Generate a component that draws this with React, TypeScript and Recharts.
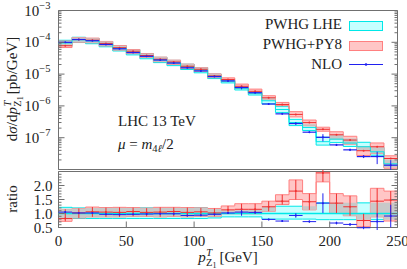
import React from 'react';
import {
  ComposedChart,
  Area,
  Line,
  Scatter,
  ErrorBar,
  XAxis,
  YAxis,
  ReferenceArea,
  ReferenceLine,
} from 'recharts';

// bins of p_T(Z1), lower edges in GeV
const binLow = [0, 10, 20, 30, 40, 50, 60, 70, 80, 90, 100, 110, 120, 130, 140, 150, 160, 170, 180, 190, 200, 210, 220, 230, 240];
const binWidth = 10;
const xTicks = [0, 50, 100, 150, 200, 250];

// PWHG LHE central value, pb/GeV
const lhe = [9.5e-5, 1.2e-4, 1.1e-4, 8.8e-5, 6.5e-5, 4.9e-5, 3.7e-5, 2.8e-5, 2.25e-5, 1.7e-5, 1.34e-5, 8.6e-6, 6.0e-6, 3.6e-6, 2.5e-6, 1.45e-6, 7.7e-7, 3.0e-7, 2.1e-7, 7.5e-8, 9.0e-8, 6.8e-8, 5.2e-8, 3.6e-8, 1.5e-8];
// PWHG LHE band, relative to central
const lheLo = [0.8, 0.82, 0.82, 0.82, 0.82, 0.82, 0.82, 0.82, 0.82, 0.82, 0.82, 0.84, 0.88, 0.88, 0.88, 0.8, 0.8, 0.8, 0.8, 0.78, 0.78, 0.78, 0.78, 0.78, 0.78];
const lheHi = [1.22, 1.2, 1.2, 1.2, 1.2, 1.2, 1.2, 1.2, 1.2, 1.2, 1.2, 1.16, 1.12, 1.12, 1.14, 1.24, 1.26, 1.26, 1.26, 1.38, 1.38, 1.38, 1.38, 1.38, 1.38];
// PWHG+PY8 / PWHG LHE
const py8 = [0.82, 1.02, 1.06, 1.05, 1.04, 1.07, 1.04, 1.05, 1.07, 1.04, 1.06, 1.02, 1.13, 1.15, 1.15, 1.24, 1.44, 1.8, 1.42, 2.45, 1.37, 1.24, 0.75, 1.44, 1.48];
const py8Lo = [0.72, 0.84, 0.88, 0.88, 0.88, 0.9, 0.9, 0.88, 0.9, 0.88, 0.9, 0.9, 0.99, 0.99, 0.99, 1.08, 1.32, 1.5, 1.13, 2.13, 1.02, 0.92, 0.53, 0.88, 0.73];
const py8Hi = [1.15, 1.18, 1.23, 1.21, 1.22, 1.21, 1.19, 1.22, 1.22, 1.21, 1.2, 1.18, 1.27, 1.35, 1.35, 1.44, 1.67, 2.2, 1.71, 2.85, 1.71, 1.63, 0.99, 1.9, 1.8];
// NLO / PWHG LHE and its error
const nlo = [1.05, 1.02, 1.02, 0.97, 0.96, 0.97, 0.98, 0.99, 0.99, 0.93, 0.94, 0.97, 1.02, 1.05, 1.04, 0.79, 0.73, 0.93, 0.71, 1.37, 0.66, 0.61, 0.49, 0.71, 0.91];
const nloErr = [0.02, 0.02, 0.02, 0.02, 0.02, 0.02, 0.02, 0.02, 0.02, 0.02, 0.02, 0.03, 0.03, 0.13, 0.04, 0.03, 0.03, 0.08, 0.04, 0.35, 0.05, 0.05, 0.05, 0.3, 0.4];

const logMajor = [1e-3, 1e-4, 1e-5, 1e-6, 1e-7, 1e-8];

const FONT = '"Liberation Serif", "DejaVu Serif", serif';
const INK = '#222';
const FRAME = '#707070';
const CYAN = '#00e8e8';
const CYAN_FILL = '#c6ffff';
const RED = '#f03030';
const RED_FILL = '#ffc6c6';
const RED_EDGE = '#ff8080';
const GREY_FILL = '#c8c8c8';
const BLUE = '#2020f0';

const lastBin = binLow.length - 1;
const edges = [...binLow, binLow[lastBin] + binWidth];

// where the two bands overlap (drawn grey, like the print)
const overlap = (a: number[], b: number[]) => {
  const hi = Math.min(a[1], b[1]);
  return [Math.min(Math.max(a[0], b[0]), hi), hi];
};

const topRows = edges.map((x, k) => {
  const i = Math.min(k, lastBin);
  const lheBand = [lhe[i] * lheLo[i], lhe[i] * lheHi[i]];
  const py8Band = [lhe[i] * py8Lo[i], lhe[i] * py8Hi[i]];
  return { x, lhe: lhe[i], lheBand, py8Band, both: overlap(lheBand, py8Band) };
});

const ratioRows = edges.map((x, k) => {
  const i = Math.min(k, lastBin);
  const lheBand = [lheLo[i], lheHi[i]];
  const py8Band = [py8Lo[i], py8Hi[i]];
  return { x, lheBand, py8Band, both: overlap(lheBand, py8Band) };
});

const half = binWidth / 2;
const topPy8 = binLow.map((x, i) => ({ x: x + half, y: lhe[i] * py8[i], xe: half }));
const topNlo = binLow.map((x, i) => ({ x: x + half, y: lhe[i] * nlo[i], xe: half, ye: lhe[i] * nloErr[i] }));
const ratioPy8 = binLow.map((x, i) => ({ x: x + half, y: py8[i], xe: half, ye: [py8[i] - py8Lo[i], py8Hi[i] - py8[i]] }));
const ratioNlo = binLow.map((x, i) => ({ x: x + half, y: nlo[i], xe: half, ye: nloErr[i] }));

// tick positions
const logTicks: number[] = [1e-3];
for (let e = -4; e >= -8; e--) {
  for (let m = 9; m >= 1; m--) logTicks.push(Number((m * Math.pow(10, e)).toPrecision(3)));
}
const ratioTicks: number[] = [];
for (let k = 0; k <= 20; k++) ratioTicks.push(Number((0.5 + k * 0.1).toFixed(1)));

const isLogMajor = (v: number) => logMajor.some((m) => Math.abs(v / m - 1) < 1e-6);

function LogTick({ x, y, payload, side }: any) {
  const v = payload.value;
  const major = isLogMajor(v);
  const d = side === 'right' ? -1 : 1;
  const exp = Math.round(Math.log10(v));
  return (
    <g>
      <line x1={x} x2={x + d * (major ? 6 : 3)} y1={y} y2={y} stroke={FRAME} />
      {side === 'left' && major && exp > -8 && (
        <text x={x - 8} y={y + 5} textAnchor="end" fontFamily={FONT} fontSize={15} fill={INK}>
          10
          <tspan dy={-7} fontSize={10.5}>{`\u2212${-exp}`}</tspan>
        </text>
      )}
    </g>
  );
}

function RatioTick({ x, y, payload, side }: any) {
  const v = payload.value;
  const major = Math.abs(v * 2 - Math.round(v * 2)) < 1e-6;
  const d = side === 'right' ? -1 : 1;
  return (
    <g>
      <line x1={x} x2={x + d * (major ? 6 : 3)} y1={y} y2={y} stroke={FRAME} />
      {side === 'left' && major && v < 2.4 && (
        <text x={x - 6} y={y + 5} textAnchor="end" fontFamily={FONT} fontSize={15} fill={INK}>
          {v.toFixed(1)}
        </text>
      )}
    </g>
  );
}

function XTick({ x, y, payload, side }: any) {
  if (side === 'top') return <line x1={x} x2={x} y1={y} y2={y + 6} stroke={FRAME} />;
  return (
    <g>
      <line x1={x} x2={x} y1={y} y2={y - 6} stroke={FRAME} />
      <text x={x} y={y + 18} textAnchor="middle" fontFamily={FONT} fontSize={15} fill={INK}>
        {payload.value}
      </text>
    </g>
  );
}

const dot = (color: string) => (p: any) => <circle cx={p.cx} cy={p.cy} r={1} fill={color} />;

// p_T with T above and Z1 below, as tspans of one text
function PtTspans() {
  return (
    <>
      <tspan fontStyle="italic">p</tspan>
      <tspan fontSize={10.5} fontStyle="italic" dy={-6} dx={0.5}>T</tspan>
      <tspan fontSize={10.5} dx={-6} dy={10}>Z</tspan>
      <tspan fontSize={8} dy={1.5}>1</tspan>
    </>
  );
}

export default function App() {
  const bandSeries = [
    <Area key="lhe" type="stepAfter" dataKey="lheBand" stroke={CYAN} strokeWidth={1} fill={CYAN_FILL} fillOpacity={1} isAnimationActive={false} />,
    <Area key="py8" type="stepAfter" dataKey="py8Band" stroke={RED_EDGE} strokeWidth={1} fill={RED_FILL} fillOpacity={1} isAnimationActive={false} />,
    <Area key="both" type="stepAfter" dataKey="both" stroke="none" fill={GREY_FILL} fillOpacity={1} isAnimationActive={false} />,
  ];
  return (
    <div
      style={{
        position: 'absolute',
        left: 0,
        top: 0,
        width: 407,
        height: 269,
        overflow: 'hidden',
        background: '#fff',
      }}
    >
      <div style={{ position: 'absolute', left: 0, top: 0, width: 407, height: 170, overflow: 'hidden' }}>
        <ComposedChart width={407} height={170} data={topRows} margin={{ top: 10.5, right: 0, bottom: 0.5, left: 0 }}>
          <XAxis dataKey="x" type="number" domain={[0, 250]} ticks={xTicks} hide />
          <YAxis
            type="number"
            scale="log"
            domain={[1e-8, 1e-3]}
            allowDataOverflow
            ticks={logTicks}
            interval={0}
            width={58.5}
            axisLine={false}
            tickLine={false}
            tickSize={0}
            tickMargin={0}
            tick={(p: any) => <LogTick {...p} side="left" />}
          />
          <YAxis
            yAxisId="r"
            orientation="right"
            type="number"
            scale="log"
            domain={[1e-8, 1e-3]}
            allowDataOverflow
            ticks={logTicks}
            interval={0}
            width={9.5}
            axisLine={false}
            tickLine={false}
            tickSize={0}
            tickMargin={0}
            tick={(p: any) => <LogTick {...p} side="right" />}
          />
          {bandSeries}
          <Line type="stepAfter" dataKey="lhe" stroke={CYAN} strokeWidth={1} dot={false} isAnimationActive={false} />
          <Scatter data={topPy8} dataKey="y" shape={dot(RED)} isAnimationActive={false}>
            <ErrorBar dataKey="xe" direction="x" width={0} stroke={RED} strokeWidth={1} />
          </Scatter>
          <Scatter data={topNlo} dataKey="y" shape={dot(BLUE)} isAnimationActive={false}>
            <ErrorBar dataKey="xe" direction="x" width={0} stroke={BLUE} strokeWidth={1.2} />
            <ErrorBar dataKey="ye" direction="y" width={0} stroke={BLUE} strokeWidth={1} />
          </Scatter>
          <ReferenceArea x1={0} x2={250} y1={1e-8} y2={1e-3} fill="none" stroke={FRAME} strokeWidth={1} ifOverflow="visible" />
        </ComposedChart>
      </div>

      <div style={{ position: 'absolute', left: 0, top: 170, width: 407, height: 99, overflow: 'hidden' }}>
        <ComposedChart width={407} height={99} data={ratioRows} margin={{ top: 1.5, right: 0, bottom: 0, left: 0 }}>
          <XAxis
            dataKey="x"
            type="number"
            domain={[0, 250]}
            ticks={xTicks}
            interval={0}
            height={41.5}
            axisLine={false}
            tickLine={false}
            tickSize={0}
            tickMargin={0}
            tick={(p: any) => <XTick {...p} side="bottom" />}
          />
          <XAxis
            xAxisId="t"
            orientation="top"
            dataKey="x"
            type="number"
            domain={[0, 250]}
            ticks={xTicks}
            interval={0}
            height={0}
            axisLine={false}
            tickLine={false}
            tickSize={0}
            tickMargin={0}
            tick={(p: any) => <XTick {...p} side="top" />}
          />
          <YAxis
            type="number"
            domain={[0.5, 2.5]}
            allowDataOverflow
            ticks={ratioTicks}
            interval={0}
            width={58.5}
            axisLine={false}
            tickLine={false}
            tickSize={0}
            tickMargin={0}
            tick={(p: any) => <RatioTick {...p} side="left" />}
          />
          <YAxis
            yAxisId="r"
            orientation="right"
            type="number"
            domain={[0.5, 2.5]}
            allowDataOverflow
            ticks={ratioTicks}
            interval={0}
            width={9.5}
            axisLine={false}
            tickLine={false}
            tickSize={0}
            tickMargin={0}
            tick={(p: any) => <RatioTick {...p} side="right" />}
          />
          {bandSeries}
          <ReferenceLine y={1} stroke={CYAN} strokeWidth={1.5} />
          <Scatter data={ratioPy8} dataKey="y" shape={dot(RED)} isAnimationActive={false}>
            <ErrorBar dataKey="xe" direction="x" width={0} stroke={RED} strokeWidth={1} />
            <ErrorBar dataKey="ye" direction="y" width={0} stroke={RED} strokeWidth={1} />
          </Scatter>
          <Scatter data={ratioNlo} dataKey="y" shape={dot(BLUE)} isAnimationActive={false}>
            <ErrorBar dataKey="xe" direction="x" width={0} stroke={BLUE} strokeWidth={1} />
            <ErrorBar dataKey="ye" direction="y" width={0} stroke={BLUE} strokeWidth={1} />
          </Scatter>
          <ReferenceArea x1={0} x2={250} y1={0.5} y2={2.5} fill="none" stroke={FRAME} strokeWidth={1} ifOverflow="visible" />
        </ComposedChart>
      </div>

      {/* legend, annotations and axis titles */}
      <svg
        width={407}
        height={269}
        style={{ position: 'absolute', left: 0, top: 0, pointerEvents: 'none' }}
        fontFamily={FONT}
        fontSize={15}
        fill={INK}
      >
        <text x={342} y={29} textAnchor="end">PWHG LHE</text>
        <text x={342} y={49} textAnchor="end">PWHG+PY8</text>
        <text x={342} y={69} textAnchor="end">NLO</text>
        <rect x={349.5} y={21.5} width={33} height={9} fill={CYAN_FILL} stroke={CYAN} />
        <rect x={349.5} y={41.5} width={33} height={9} fill={RED_FILL} stroke={RED_EDGE} />
        <line x1={349} x2={383} y1={64.5} y2={64.5} stroke={BLUE} />
        <circle cx={366} cy={64.5} r={1.3} fill={BLUE} />

        <text x={118} y={126}>LHC 13 TeV</text>
        <text x={118} y={149}>
          <tspan fontStyle="italic">μ</tspan>
          <tspan> = </tspan>
          <tspan fontStyle="italic">m</tspan>
          <tspan fontSize={10.5} dy={3}>4</tspan>
          <tspan fontSize={10.5} fontStyle="italic">ℓ</tspan>
          <tspan dy={-3}>/2</tspan>
        </text>

        <text transform="translate(17,89) rotate(-90)" textAnchor="middle">
          <tspan>d</tspan>
          <tspan fontStyle="italic">σ</tspan>
          <tspan>/d</tspan>
          <PtTspans />
          <tspan dy={-5.5} dx={2}>[pb/GeV]</tspan>
        </text>
        <text transform="translate(17,199) rotate(-90)" textAnchor="middle">ratio</text>
        <text x={228} y={262} textAnchor="middle">
          <PtTspans />
          <tspan dy={-5.5} dx={3}>[GeV]</tspan>
        </text>
      </svg>
    </div>
  );
}
